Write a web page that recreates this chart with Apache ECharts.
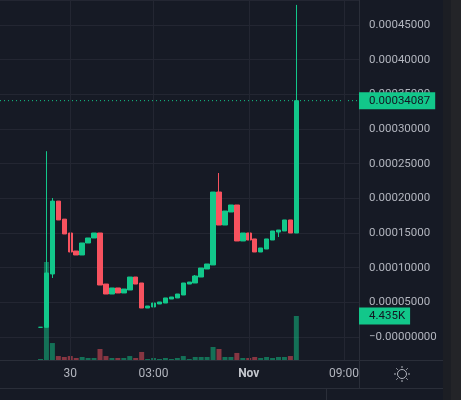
<!DOCTYPE html>
<html><head><meta charset="utf-8">
<script src="https://cdn.jsdelivr.net/npm/echarts@6/dist/echarts.min.js"></script>
<style>html,body{margin:0;padding:0;background:#161a25;}#c{width:461px;height:400px;}</style>
</head><body><div id="c"></div>
<script>
// ---- data ----
const tickLabels = ['30', '03:00', 'Nov', '09:00'];
const tickCandle = [5, 19, 35, 51];
const open = [0.0000140,0.0000140,0.0000909,0.0001960,0.0001700,0.0001500,0.0001240,0.0001183,0.0001356,0.0001428,
  0.0001500,0.0000764,0.0000620,0.0000707,0.0000635,0.0000678,0.0000865,0.0000779,0.0000418,0.0000433,
  0.0000476,0.0000490,0.0000548,0.0000563,0.0000606,0.0000764,0.0000779,0.0000865,0.0000981,0.0001039,
  0.0002091,0.0001615,0.0001803,0.0001904,0.0001385,0.0001500,0.0001414,0.0001226,0.0001269,0.0001399,
  0.0001514,0.0001529,0.0001688,0.0001500];
const close = [0.0000140,0.0000923,0.0001960,0.0001688,0.0001486,0.0001226,0.0001183,0.0001356,0.0001428,0.0001500,
  0.0000750,0.0000620,0.0000707,0.0000635,0.0000692,0.0000865,0.0000764,0.0000418,0.0000447,0.0000490,
  0.0000505,0.0000563,0.0000577,0.0000620,0.0000779,0.0000793,0.0000880,0.0000995,0.0001053,0.0002091,
  0.0001615,0.0001817,0.0001904,0.0001385,0.0001500,0.0001399,0.0001226,0.0001284,0.0001414,0.0001529,
  0.0001543,0.0001688,0.0001500,0.00034087];
const high = [0.0000140,0.0002680,0.0002005,0.0001960,0.0001700,0.0001500,0.0001240,0.0001356,0.0001428,0.0001500,
  0.0001500,0.0000764,0.0000707,0.0000707,0.0000692,0.0000865,0.0000865,0.0000779,0.0000447,0.0000490,
  0.0000505,0.0000563,0.0000577,0.0000620,0.0000779,0.0000793,0.0000894,0.0000995,0.0001053,0.0002091,
  0.0002365,0.0001817,0.0001904,0.0001904,0.0001500,0.0001500,0.0001414,0.0001284,0.0001414,0.0001529,
  0.0001543,0.0001688,0.0001688,0.0004790];
const low = [0.0000140,0.0000140,0.0000851,0.0001688,0.0001486,0.0001226,0.0001183,0.0001183,0.0001356,0.0001428,
  0.0000750,0.0000620,0.0000620,0.0000635,0.0000635,0.0000678,0.0000764,0.0000418,0.0000418,0.0000433,
  0.0000476,0.0000490,0.0000548,0.0000563,0.0000606,0.0000764,0.0000779,0.0000865,0.0000981,0.0001039,
  0.0001615,0.0001615,0.0001803,0.0001385,0.0001385,0.0001399,0.0001226,0.0001226,0.0001269,0.0001399,
  0.0001442,0.0001529,0.0001500,0.0001500];
const volume = [100,9880,1710,400,300,400,200,300,200,200,
  1110,400,200,200,200,400,200,810,100,200,
  100,200,100,200,400,100,300,300,300,1310,
  1110,300,300,710,200,200,300,200,300,200,
  300,300,400,4435];

// ---- style / layout ----
const UP = '#12c78a', DOWN = '#f7525f';
const UP_VOL = 'rgba(18,199,138,0.5)', DOWN_VOL = 'rgba(247,82,95,0.5)';
const BG = '#161a25', GRID = '#232632', BORDER = '#2a2e39', TXT = '#b2b5be';
const FONT = 'Roboto';
const X_MIN = -6.807, X_MAX = 53.529;           // visible candle-index range
const Y_MIN = -0.00003317, Y_MAX = 0.00048606;   // visible price range
const STEP = 0.00005;
const VOL_MAX = 36286;

const labelAt = {};
tickCandle.forEach((c, k) => labelAt[c] = tickLabels[k]);

const candleData = open.map((o, i) => [i, o, close[i], low[i], high[i]]);
const volData = volume.map((v, i) => ({
  value: [i, v],
  itemStyle: { color: close[i] >= open[i] ? UP_VOL : DOWN_VOL }
}));
const lastClose = close[close.length - 1];
const lastVol = volume[volume.length - 1];

const isStep = (v) => Math.abs(v / STEP - Math.round(v / STEP)) < 1e-6;

const chart = echarts.init(document.getElementById('c'), null, { renderer: 'canvas' });
chart.setOption({
  backgroundColor: BG,
  animation: false,
  textStyle: { fontFamily: FONT },
  grid: [
    { left: 0, top: 0, width: 359, height: 360, containLabel: false },
    { left: 0, top: 0, width: 359, height: 360, containLabel: false }
  ],
  xAxis: [
    { type: 'value', gridIndex: 0, min: X_MIN, max: X_MAX, show: false },
    { type: 'value', gridIndex: 1, min: X_MIN, max: X_MAX, z: 20,
      axisLine: { show: true, onZero: false, lineStyle: { color: BORDER } },
      axisTick: { show: false }, splitLine: { show: false },
      axisLabel: {
        customValues: tickCandle,
        showMinLabel: true, showMaxLabel: true, hideOverlap: false,
        formatter: (v) => labelAt[Math.round(v)] === 'Nov' ? '{b|Nov}' : (labelAt[Math.round(v)] || ''),
        color: TXT, fontSize: 12, margin: 8, fontFamily: FONT,
        rich: { b: { fontWeight: 'bold', color: '#c4c7ce', fontSize: 12, fontFamily: FONT } }
      } }
  ],
  yAxis: [
    { type: 'value', gridIndex: 0, position: 'right', min: Y_MIN, max: Y_MAX,
      splitNumber: 10, minInterval: STEP, maxInterval: STEP,
      axisLine: { show: false }, axisTick: { show: false },
      splitLine: { show: true, lineStyle: { color: GRID, width: 1 } },
      axisLabel: { color: TXT, fontSize: 11.5, margin: 10, fontFamily: FONT,
        formatter: (v) => {
          if (!isStep(v) || v < -1e-9) return '';
          if (Math.abs(v) < 1e-12) return '\u22120.00000000';
          return v.toFixed(8);
        } } },
    { type: 'value', gridIndex: 0, position: 'right', offset: 0, min: Y_MIN, max: Y_MAX, z: 30,
      axisLine: { show: false }, axisTick: { show: false }, splitLine: { show: false },
      axisLabel: { customValues: [lastClose], showMinLabel: true, showMaxLabel: true,
        margin: 0, formatter: (v) => v.toFixed(8),
        backgroundColor: UP, color: '#131722', fontSize: 11.5, fontFamily: FONT, padding: [3, 5, 2, 10] } },
    { type: 'value', gridIndex: 1, position: 'right', offset: 0, min: 0, max: VOL_MAX, z: 30,
      axisLine: { show: false }, axisTick: { show: false }, splitLine: { show: false },
      axisLabel: { customValues: [lastVol], showMinLabel: true, showMaxLabel: true,
        margin: 0, formatter: (v) => (v / 1000).toFixed(3) + 'K',
        backgroundColor: UP, color: '#131722', fontSize: 11.5, fontFamily: FONT, padding: [3, 5, 2, 10] } }
  ],
  series: [
    { type: 'bar', xAxisIndex: 1, yAxisIndex: 2, data: volData, barWidth: 5, z: 2,
      encode: { x: 0, y: 1 },
      markLine: { silent: true, symbol: 'none', animation: false,
        lineStyle: { color: GRID, type: 'solid', width: 1 },
        label: { show: false },
        data: tickCandle.map(c => ({ xAxis: c })) } },
    { type: 'line', xAxisIndex: 0, yAxisIndex: 0, z: 2, symbol: 'none', silent: true,
      data: [[X_MIN, lastClose], [X_MAX, lastClose]],
      lineStyle: { color: UP, type: [1, 3], width: 1 } },
    { type: 'candlestick', xAxisIndex: 0, yAxisIndex: 0, data: candleData, barWidth: 5, z: 3,
      encode: { x: 0, y: [1, 2, 3, 4] },
      itemStyle: { color: UP, color0: DOWN, borderColor: UP, borderColor0: DOWN, borderWidth: 1 } }
  ],
  graphic: [
    { type: 'rect', z: 10, silent: true, shape: { x: 0, y: 360.5, width: 443, height: 40 }, style: { fill: BG } },
    { type: 'rect', z: 10, silent: true, shape: { x: 443, y: 0, width: 8, height: 400 }, style: { fill: '#1c1e24' } },
    { type: 'rect', z: 10, silent: true, shape: { x: 451, y: 0, width: 10, height: 400 }, style: { fill: '#232428' } },
    { type: 'line', z: 11, silent: true, shape: { x1: 0, y1: 360.5, x2: 443, y2: 360.5 }, style: { stroke: BORDER, lineWidth: 1 } },
    { type: 'line', z: 11, silent: true, shape: { x1: 0, y1: 388.5, x2: 443, y2: 388.5 }, style: { stroke: BORDER, lineWidth: 1 } },
    { type: 'line', z: 11, silent: true, shape: { x1: 359.5, y1: 0, x2: 359.5, y2: 388 }, style: { stroke: BORDER, lineWidth: 1 } },
    { type: 'line', z: 11, silent: true, shape: { x1: 326.5, y1: 389, x2: 326.5, y2: 400 }, style: { stroke: BORDER, lineWidth: 1 } },
    { type: 'group', z: 11, x: 402, y: 374, silent: true, children: [
      { type: 'circle', z: 11, shape: { cx: 0, cy: 0, r: 4.5 }, style: { fill: 'none', stroke: TXT, lineWidth: 1 } },
      ...[0,1,2,3,4,5,6,7].map(k => {
        const a = k * Math.PI / 4;
        return { type: 'line', z: 11, shape: { x1: Math.cos(a) * 6, y1: Math.sin(a) * 6, x2: Math.cos(a) * 8, y2: Math.sin(a) * 8 },
          style: { stroke: TXT, lineWidth: 1 } };
      })
    ] }
  ]
});
</script></body></html>
